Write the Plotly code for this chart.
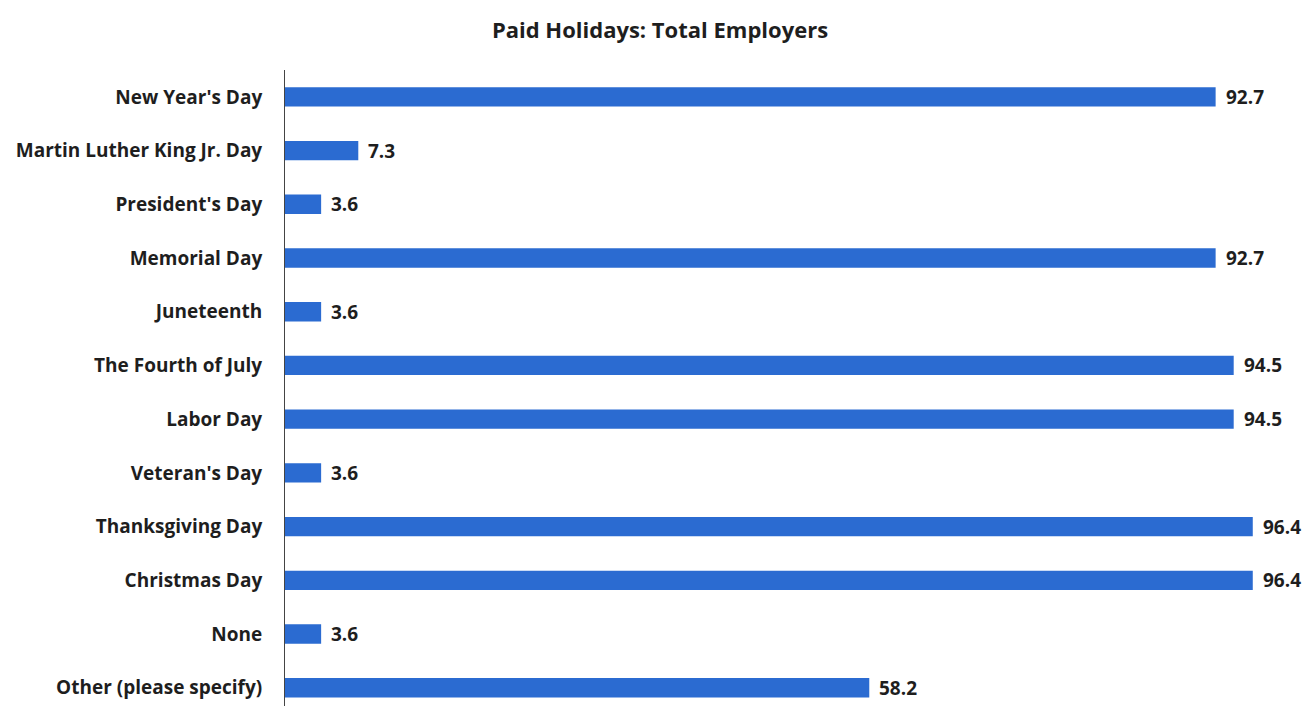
import plotly.graph_objects as go

# Paid holidays offered, percent of total employers
holidays = [
    "New Year's Day",
    "Martin Luther King Jr. Day",
    "President's Day",
    "Memorial Day",
    "Juneteenth",
    "The Fourth of July",
    "Labor Day",
    "Veteran's Day",
    "Thanksgiving Day",
    "Christmas Day",
    "None",
    "Other (please specify)",
]
percent = [92.7, 7.3, 3.6, 92.7, 3.6, 94.5, 94.5, 3.6, 96.4, 96.4, 3.6, 58.2]

FONT = "Open Sans"
BAR_COLOR = "#2b6bd1"
TEXT_COLOR = "#1e1e1e"

fig = go.Figure(
    go.Bar(
        x=percent,
        y=holidays,
        orientation="h",
        marker=dict(color=BAR_COLOR, line=dict(width=0)),
        width=0.36,
        hoverinfo="skip",
    )
)

# value labels just past the end of each bar
for h, v in zip(holidays, percent):
    fig.add_annotation(
        x=v, y=h, text=f"{v:.1f}", showarrow=False,
        xanchor="left", xshift=8,
        font=dict(family=FONT, size=19, color=TEXT_COLOR, weight=700),
    )

fig.update_layout(
    width=1311,
    height=706,
    margin=dict(l=285, r=0, t=70, b=0),
    paper_bgcolor="white",
    plot_bgcolor="white",
    showlegend=False,
    title=dict(
        text="Paid Holidays: Total Employers",
        x=660 / 1311, xanchor="center", xref="container",
        y=1 - 30 / 706, yanchor="middle", yref="container",
        font=dict(family=FONT, size=22, color=TEXT_COLOR, weight=700),
    ),
    xaxis=dict(
        range=[0, 102.2],
        visible=False,
        showgrid=False,
        zeroline=False,
    ),
    yaxis=dict(
        categoryorder="array",
        categoryarray=holidays,
        range=[11.34, -0.5],
        showline=True,
        linecolor="#444444",
        linewidth=1,
        showgrid=False,
        zeroline=False,
        ticks="",
        ticklabelstandoff=18,
        tickfont=dict(family=FONT, size=19, color=TEXT_COLOR, weight=700),
    ),
)

fig.write_html("out.html")
